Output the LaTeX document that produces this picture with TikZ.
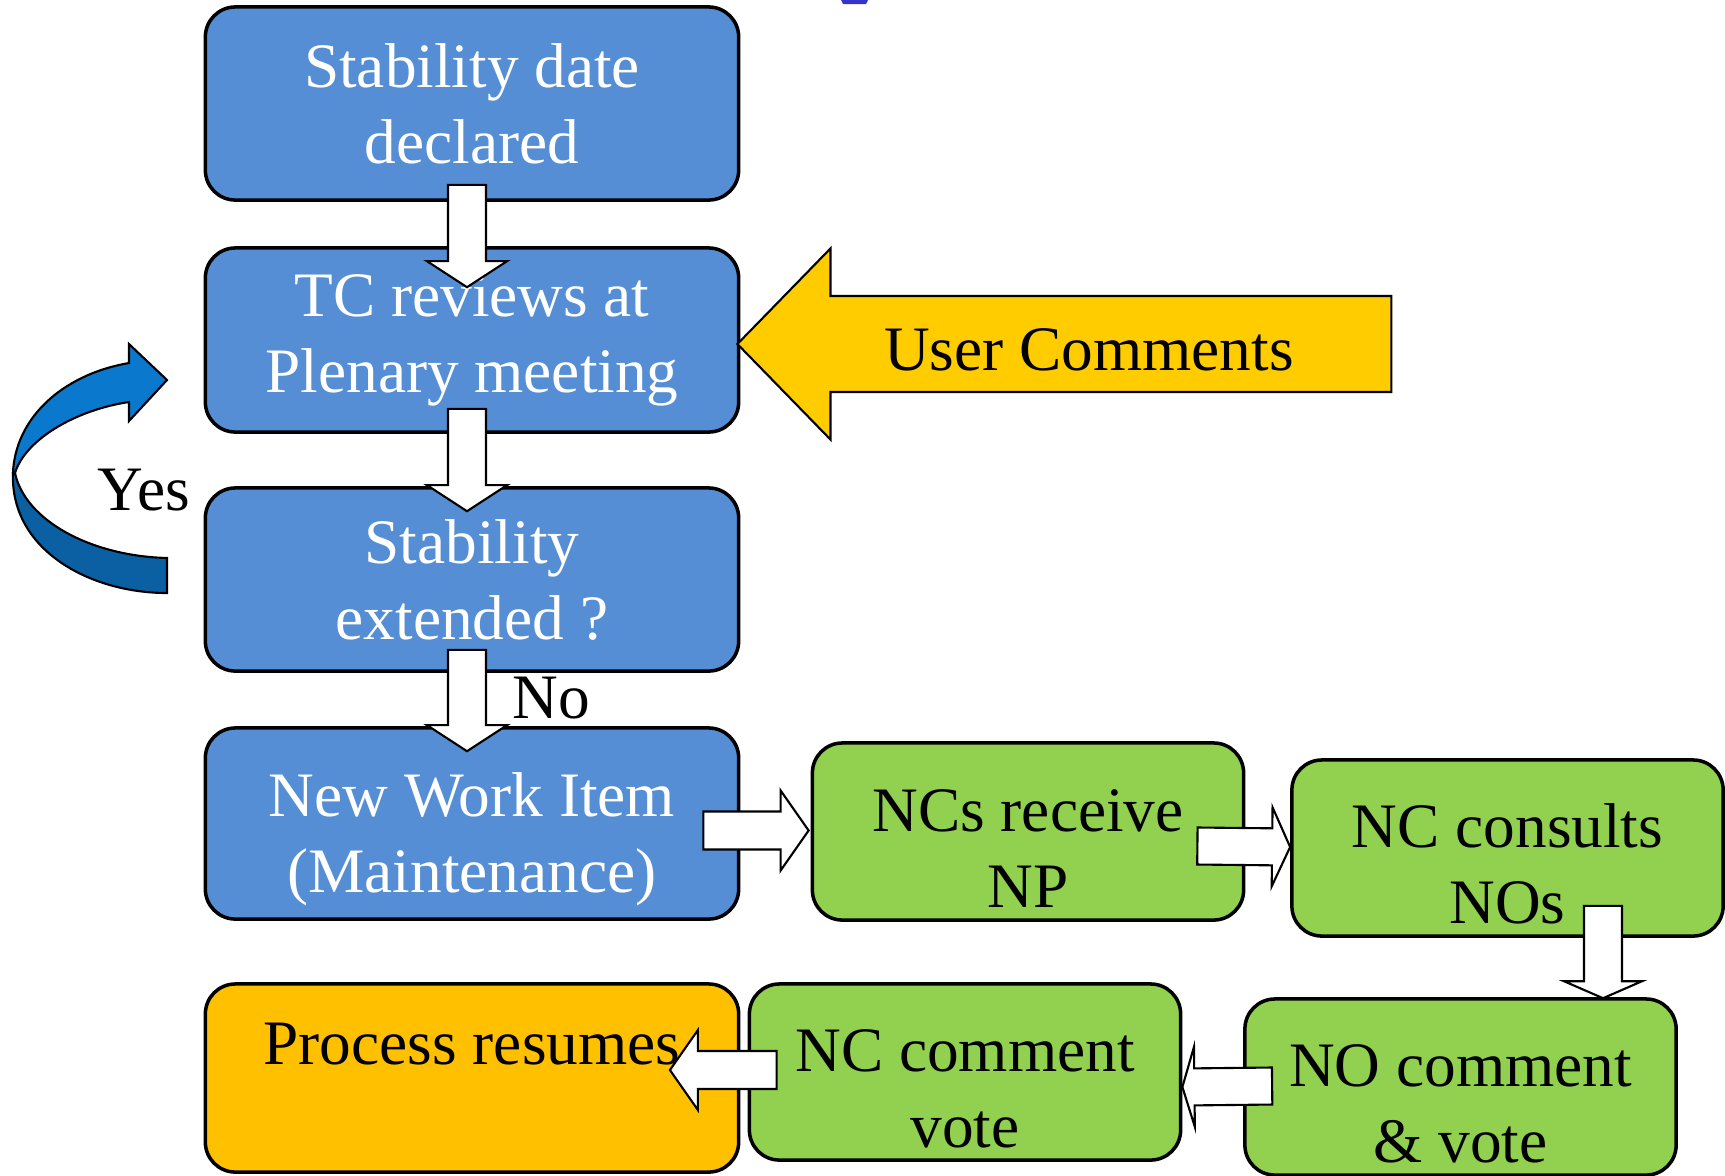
\documentclass[tikz,border=0pt]{standalone}
\usepackage{fontspec}
\setmainfont{Liberation Serif}
\usetikzlibrary{calc}
\definecolor{stepBlue}{HTML}{558ED5}
\definecolor{stepGreen}{HTML}{92D050}
\definecolor{stepOrange}{HTML}{FFC000}
\definecolor{userYellow}{HTML}{FFCC00}
\definecolor{loopLight}{HTML}{0A78CC}
\definecolor{loopDark}{HTML}{0B5FA3}
\definecolor{fragBlue}{HTML}{3434CC}
% block arrow: [fill]{from}{tip}{shaft half width}{head half width}{head length}
\newcommand{\blockArrow}[6][white]{%
  \coordinate (ba-base) at ($(#3)!#6!(#2)$);
  \draw[fill=#1, line width=0.6pt, line join=miter]
    ($(#2)!#4!90:(#3)$) -- ($(ba-base)!#4!90:(#3)$) -- ($(ba-base)!#5!90:(#3)$)
    -- (#3) -- ($(ba-base)!#5!-90:(#3)$) -- ($(ba-base)!#4!-90:(#3)$)
    -- ($(#2)!#4!-90:(#3)$) -- cycle;
}
\begin{document}
\begin{tikzpicture}[x=0.01cm, y=-0.01cm,
  every node/.style={font=\fontsize{18}{21.6}\selectfont},
  bluebox/.style={draw, line width=1pt, rounded corners=0.3cm, fill=stepBlue, text=white,
    align=flush center, text width=5cm, minimum width=5.33cm, inner sep=0pt},
  greenbox/.style={draw, line width=1pt, rounded corners=0.3cm, fill=stepGreen, text=black,
    align=flush center, text width=4cm, minimum width=4.31cm, minimum height=1.76cm, inner sep=0pt},
  orangebox/.style={draw, line width=1pt, rounded corners=0.3cm, fill=stepOrange, text=black,
    minimum width=5.33cm, inner sep=0pt},
  lowtext/.style={execute at begin node={\rule{0pt}{0.76cm}}}]
\useasboundingbox (0,0) rectangle (1725,1175);
% cut-off title fragment
\fill[fragBlue] (841,0) -- (868,0) -- (866,4) -- (843,4) -- cycle;
% Left column
\node[bluebox, minimum height=1.93cm] (stab) at (472,103.5) {Stability date\\declared};
\node[bluebox, minimum height=1.84cm] (review) at (472,340) {TC reviews at\\Plenary meeting};
\node[bluebox, minimum height=1.83cm] (extend) at (472,579.5) {Stability\\extended ?};
\node[bluebox, lowtext, minimum height=1.91cm] (nwi) at (472,823.5) {New Work Item\\(Maintenance)};
\node[orangebox, minimum height=1.88cm, text depth=0.69cm] (resume) at (472,1078) {Process resumes};
% National steps
\node[greenbox, lowtext, minimum height=1.77cm] (receive) at (1028,831.5) {NCs receive\\NP};
\node[greenbox, lowtext] (consult) at (1507.5,848) {NC consults\\NOs};
\node[greenbox, lowtext] (nocv) at (1460.5,1087) {NO comment\\\& vote};
\node[greenbox, lowtext] (nccv) at (965,1072) {NC comment\\vote};
% Down arrows
\coordinate (a1s) at ($(stab.south)+(-5,-17)$);
\coordinate (a1t) at ($(review.north)+(-5,41)$);
\blockArrow{a1s}{a1t}{0.19cm}{0.40cm}{0.26cm}
\coordinate (a2s) at ($(review.south)+(-5,-25)$);
\coordinate (a2t) at ($(extend.north)+(-5,25)$);
\blockArrow{a2s}{a2t}{0.19cm}{0.40cm}{0.26cm}
\coordinate (a3s) at ($(extend.south)+(-5,-23)$);
\coordinate (a3t) at ($(nwi.north)+(-5,25)$);
\blockArrow{a3s}{a3t}{0.19cm}{0.40cm}{0.26cm}
% User comments
\coordinate (ucend) at ($(review.east)+(651,4)$);
\coordinate (uctip) at ($(review.east)+(-3,4)$);
\blockArrow[userYellow]{ucend}{uctip}{0.48cm}{0.955cm}{0.93cm}
\node[anchor=base] (ucom) at (1089,370) {User Comments};
% Along the national loop
\coordinate (b1s) at ($(nwi.east)+(-37,7)$);
\coordinate (b1t) at ($(receive.west)+(-2,-1)$);
\blockArrow{b1s}{b1t}{0.19cm}{0.40cm}{0.28cm}
\coordinate (b2s) at ($(receive.east)+(-48,14.5)$);
\coordinate (b2t) at ($(consult.west)+(0,-1)$);
\blockArrow{b2s}{b2t}{0.185cm}{0.395cm}{0.18cm}
\coordinate (b3s) at ($(consult.south)+(95.5,-32)$);
\coordinate (b3t) at ($(nocv.north)+(142.5,1)$);
\blockArrow{b3s}{b3t}{0.19cm}{0.39cm}{0.17cm}
\coordinate (b4s) at ($(nocv.west)+(29,-1)$);
\coordinate (b4t) at ($(nccv.east)+(0,15)$);
\blockArrow{b4s}{b4t}{0.185cm}{0.40cm}{0.12cm}
\coordinate (b5s) at ($(nccv.west)+(29,-2)$);
\coordinate (b5t) at ($(resume.east)+(-70.5,-8)$);
\blockArrow{b5s}{b5t}{0.19cm}{0.40cm}{0.28cm}
% Yes loop
\begin{scope}[draw=black, line width=0.6pt, line join=miter]
  \filldraw[fill=loopDark] (167,558) .. controls (90,556) and (25,520) .. (15,473) -- (13,473)
    .. controls (10,550) and (90,593) .. (167,593) -- cycle;
  \filldraw[fill=loopLight] (13,473) .. controls (15,420) and (60,375) .. (129,363)
    -- (129,344) -- (167,380) -- (129,421) -- (129,402)
    .. controls (75,410) and (25,440) .. (15,473) -- cycle;
\end{scope}
\node[anchor=base] (yes) at (144,510) {Yes};
\node[anchor=base] (no) at (551,718) {No};
\end{tikzpicture}
\end{document}
